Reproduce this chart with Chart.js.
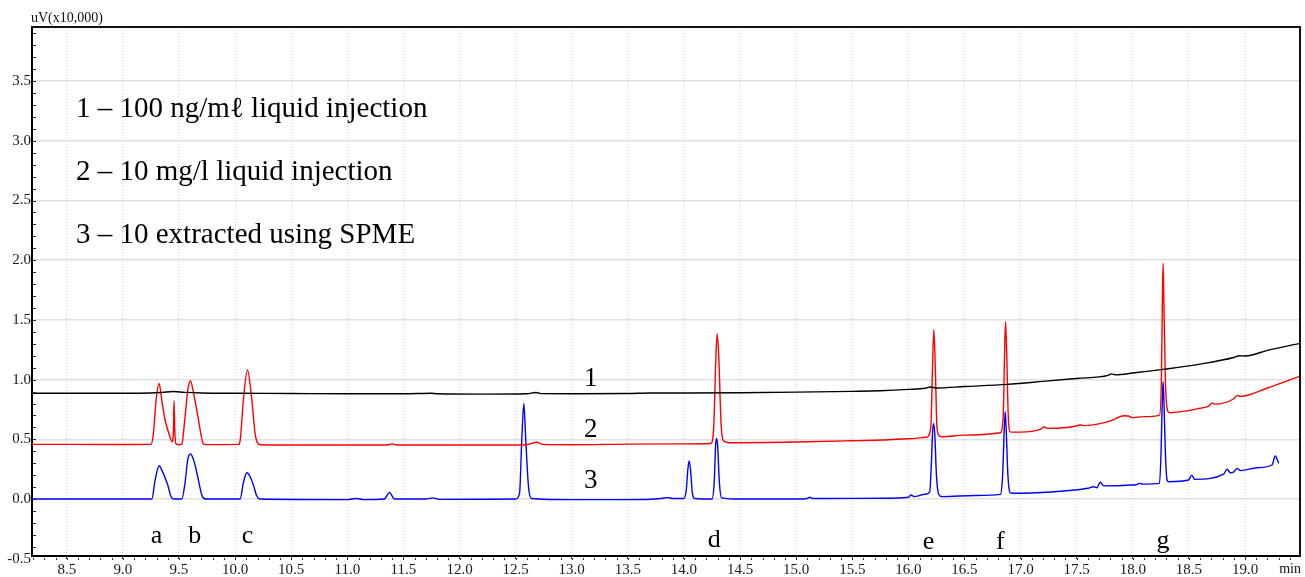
<!DOCTYPE html>
<html>
<head>
<meta charset="utf-8">
<script src="https://cdn.jsdelivr.net/npm/chart.js@4.4.1/dist/chart.umd.min.js"></script>
<style>
  html, body { margin: 0; padding: 0; background: #fff; }
  canvas { display: block; }
</style>
</head>
<body>
<canvas id="gcChart" width="1305" height="577"></canvas>
<script>
// Retention time (min) vs signal (uV x10,000)
const trace1 = [
  [8.19, 0.886], [9.0, 0.886], [9.25, 0.888], [9.35, 0.893], [9.45, 0.9], [9.55, 0.893], [9.7, 0.888],
  [10.0, 0.886], [10.5, 0.884], [11.0, 0.882], [11.5, 0.882], [11.75, 0.886], [11.8, 0.882], [12.2, 0.879],
  [12.6, 0.882], [12.68, 0.892], [12.74, 0.883], [13.0, 0.882], [13.5, 0.884], [13.7, 0.888], [14.0, 0.888],
  [14.5, 0.89], [15.0, 0.895], [15.5, 0.902], [15.75, 0.907], [16.0, 0.918], [16.15, 0.928], [16.2, 0.938],
  [16.25, 0.93], [16.5, 0.942], [16.88, 0.96], [17.2, 0.985], [17.5, 1.01], [17.78, 1.035], [17.81, 1.048],
  [17.85, 1.04], [18.0, 1.055], [18.27, 1.086], [18.6, 1.13], [18.9, 1.185], [18.95, 1.2], [19.0, 1.198],
  [19.2, 1.245], [19.49, 1.304]
];

const trace2 = [
  [8.19, 0.458], [9.0, 0.457], [9.25, 0.458], [9.272, 0.55], [9.296, 0.83], [9.323, 0.969], [9.346, 0.83],
  [9.376, 0.662], [9.42, 0.52], [9.436, 0.48], [9.45, 0.56], [9.456, 0.823], [9.463, 0.56], [9.474, 0.46],
  [9.5, 0.455], [9.525, 0.46], [9.554, 0.69], [9.578, 0.91], [9.602, 0.991], [9.63, 0.885], [9.664, 0.718],
  [9.694, 0.55], [9.718, 0.46], [9.75, 0.456], [10.03, 0.458], [10.045, 0.49], [10.074, 0.83], [10.11, 1.08],
  [10.149, 0.83], [10.178, 0.55], [10.208, 0.46], [10.23, 0.455], [10.5, 0.452], [11.0, 0.452], [11.35, 0.452],
  [11.4, 0.462], [11.45, 0.452], [12.0, 0.452], [12.55, 0.452], [12.62, 0.46], [12.69, 0.475], [12.74, 0.458],
  [13.0, 0.455], [13.5, 0.46], [14.0, 0.462], [14.24, 0.465], [14.265, 0.6], [14.285, 1.2], [14.296, 1.382],
  [14.31, 1.2], [14.33, 0.65], [14.35, 0.49], [14.4, 0.472], [15.0, 0.478], [15.5, 0.488], [15.75, 0.494],
  [16.0, 0.505], [16.16, 0.517], [16.2, 0.6], [16.215, 1.1], [16.227, 1.421], [16.24, 1.1], [16.255, 0.6],
  [16.275, 0.53], [16.3, 0.522], [16.5, 0.535], [16.82, 0.555], [16.845, 0.7], [16.857, 1.2], [16.866, 1.488],
  [16.877, 1.2], [16.89, 0.7], [16.91, 0.56], [17.0, 0.56], [17.18, 0.585], [17.21, 0.603], [17.24, 0.592],
  [17.5, 0.612], [17.53, 0.622], [17.56, 0.615], [17.78, 0.648], [17.84, 0.67], [17.92, 0.698], [17.96, 0.695],
  [18.0, 0.682], [18.1, 0.69], [18.238, 0.703], [18.255, 1.0], [18.263, 1.6], [18.27, 1.974], [18.278, 1.6],
  [18.29, 1.0], [18.31, 0.74], [18.33, 0.723], [18.6, 0.76], [18.68, 0.78], [18.705, 0.805], [18.73, 0.795],
  [18.9, 0.84], [18.93, 0.868], [18.96, 0.86], [19.2, 0.93], [19.49, 1.03]
];

const trace3 = [
  [8.19, 0.0], [9.258, 0.0], [9.287, 0.158], [9.323, 0.279], [9.346, 0.244], [9.4, 0.117], [9.427, 0.025],
  [9.45, 0.0], [9.525, 0.0], [9.554, 0.137], [9.578, 0.33], [9.602, 0.377], [9.635, 0.313], [9.673, 0.159],
  [9.703, 0.033], [9.733, 0.0], [10.045, 0.0], [10.074, 0.137], [10.104, 0.22], [10.134, 0.187],
  [10.163, 0.117], [10.193, 0.025], [10.22, 0.0], [11.0, -0.005], [11.08, 0.005], [11.15, -0.005],
  [11.33, 0.0], [11.376, 0.056], [11.42, 0.0], [11.7, 0.0], [11.76, 0.01], [11.82, -0.003], [12.5, 0.0],
  [12.535, 0.05], [12.555, 0.5], [12.573, 0.8], [12.59, 0.5], [12.615, 0.1], [12.64, 0.005], [13.0, -0.005],
  [13.5, -0.005], [13.8, 0.005], [13.85, 0.012], [13.9, 0.005], [14.0, 0.005], [14.02, 0.07], [14.035, 0.25],
  [14.046, 0.318], [14.058, 0.25], [14.075, 0.05], [14.095, 0.005], [14.25, 0.0], [14.27, 0.15],
  [14.282, 0.45], [14.29, 0.508], [14.3, 0.45], [14.315, 0.15], [14.335, 0.01], [14.5, 0.0], [15.0, 0.0],
  [15.1, 0.005], [15.12, 0.015], [15.15, 0.005], [15.75, 0.006], [16.0, 0.015], [16.025, 0.034], [16.05, 0.02],
  [16.15, 0.04], [16.19, 0.06], [16.205, 0.3], [16.215, 0.55], [16.224, 0.634], [16.235, 0.55], [16.25, 0.2],
  [16.27, 0.04], [16.3, 0.02], [16.6, 0.03], [16.82, 0.039], [16.84, 0.2], [16.853, 0.55], [16.863, 0.731],
  [16.873, 0.55], [16.887, 0.2], [16.905, 0.055], [16.93, 0.048], [17.41, 0.07], [17.6, 0.09], [17.65, 0.103],
  [17.68, 0.095], [17.71, 0.14], [17.74, 0.11], [17.99, 0.117], [18.03, 0.12], [18.06, 0.131], [18.09, 0.125],
  [18.238, 0.131], [18.252, 0.4], [18.262, 0.8], [18.27, 0.982], [18.278, 0.8], [18.29, 0.4], [18.305, 0.16],
  [18.32, 0.145], [18.496, 0.159], [18.526, 0.2], [18.55, 0.165], [18.81, 0.209], [18.84, 0.249], [18.87, 0.22],
  [18.9, 0.228], [18.93, 0.257], [18.96, 0.238], [19.106, 0.262], [19.24, 0.285], [19.27, 0.36], [19.3, 0.299]
];

const xTickLabels = ['8.5', '9.0', '9.5', '10.0', '10.5', '11.0', '11.5', '12.0', '12.5', '13.0', '13.5',
  '14.0', '14.5', '15.0', '15.5', '16.0', '16.5', '17.0', '17.5', '18.0', '18.5', '19.0'];
const yTickLabels = ['-0.5', '0.0', '0.5', '1.0', '1.5', '2.0', '2.5', '3.0', '3.5'];

const legendLines = ['1 \u2013 100 ng/m\u2113 liquid injection', '2 \u2013 10 mg/l liquid injection', '3 \u2013 10 extracted using SPME'];
const traceNames = ['1', '2', '3'];
const peakLetters = ['a', 'b', 'c', 'd', 'e', 'f', 'g'];
const peakTimes = [9.3, 9.64, 10.11, 14.27, 16.18, 16.82, 18.27];

const serif = '"Liberation Serif", "Times New Roman", serif';

// axis extras, border, and the text annotations
const extrasPlugin = {
    id: 'extras',
    afterDraw(chart) {
        const { ctx, chartArea: a, scales } = chart;
        const xs = scales.x, ys = scales.y;
        ctx.save();

        // top and right frame
        ctx.strokeStyle = '#111';
        ctx.lineWidth = 2;
        ctx.beginPath();
        ctx.moveTo(a.left, a.top);
        ctx.lineTo(a.right, a.top);
        ctx.lineTo(a.right, a.bottom);
        ctx.stroke();

        // minor ticks
        ctx.fillStyle = '#333';
        for (let i = 82; i <= 194; i++) {
            const px = Math.round(xs.getPixelForValue(i / 10));
            ctx.fillRect(px, a.bottom + 2, 1, 2);
        }
        for (let i = -4; i <= 39; i++) {
            const py = Math.round(ys.getPixelForValue(i / 10));
            ctx.fillRect(a.left + 1, py, 3, 1);
        }

        ctx.fillStyle = '#111';
        ctx.font = '14px ' + serif;
        ctx.textAlign = 'left';
        ctx.textBaseline = 'alphabetic';
        ctx.fillText('uV(x10,000)', a.left - 1, a.top - 5);
        ctx.textAlign = 'right';
        ctx.fillText('min', a.right + 1, a.bottom + 17);

        // legend text block
        ctx.fillStyle = '#000';
        ctx.font = '29px ' + serif;
        ctx.textAlign = 'left';
        legendLines.forEach((t, i) => ctx.fillText(t, a.left + 44, a.top + 90 + i * 63));

        // trace numbers
        ctx.font = '27px ' + serif;
        ctx.textAlign = 'center';
        const nameVals = [0.95, 0.52, 0.09];
        traceNames.forEach((t, i) => ctx.fillText(t, xs.getPixelForValue(13.17), ys.getPixelForValue(nameVals[i])));

        // peak letters
        ctx.font = '26px ' + serif;
        const letterBase = [-0.368, -0.368, -0.368, -0.402, -0.42, -0.42, -0.41];
        peakLetters.forEach((t, i) => ctx.fillText(t, xs.getPixelForValue(peakTimes[i]), ys.getPixelForValue(letterBase[i])));
        ctx.restore();
    }
};

const toPoints = arr => arr.map(p => ({ x: p[0], y: p[1] }));

const chart = new Chart(document.getElementById('gcChart').getContext('2d'), {
    type: 'line',
    data: {
        datasets: [
            { label: '1', data: toPoints(trace1), borderColor: '#000000' },
            { label: '2', data: toPoints(trace2), borderColor: '#ff0000' },
            { label: '3', data: toPoints(trace3), borderColor: '#0000ff' }
        ]
    },
    options: {
        responsive: false,
        animation: false,
        layout: { padding: { top: 27, right: 5, left: 0, bottom: 0 } },
        plugins: { legend: { display: false }, tooltip: { enabled: false } },
        elements: {
            point: { radius: 0 },
            line: { borderWidth: 1.4, cubicInterpolationMode: 'monotone', fill: false }
        },
        scales: {
            x: {
                type: 'linear',
                min: 8.19,
                max: 19.49,
                afterFit: s => { s.height = 21; },
                afterBuildTicks: s => { s.ticks = xTickLabels.map(l => ({ value: parseFloat(l) })); },
                ticks: {
                    callback: (v, i) => xTickLabels[i],
                    font: { family: serif, size: 15 },
                    color: '#1a1a1a',
                    padding: 2,
                    maxRotation: 0,
                    autoSkip: false
                },
                grid: { color: '#d4d4d4', lineWidth: 1, tickLength: 3, tickColor: '#333' },
                border: { color: '#000', width: 2, dash: [1, 2] }
            },
            y: {
                min: -0.477,
                max: 3.953,
                afterFit: s => { s.width = 32; },
                afterBuildTicks: s => { s.ticks = yTickLabels.map(l => ({ value: parseFloat(l) })); },
                ticks: {
                    callback: (v, i) => yTickLabels[i],
                    font: { family: serif, size: 15 },
                    color: '#1a1a1a',
                    padding: 1
                },
                grid: {
                    color: c => (c.tick && c.tick.value < -0.48) ? 'rgba(0,0,0,0)' : '#e0e0e0',
                    lineWidth: 1.5,
                    drawTicks: false
                },
                border: { color: '#000', width: 2 }
            }
        }
    },
    plugins: [extrasPlugin]
});
</script>
</body>
</html>
